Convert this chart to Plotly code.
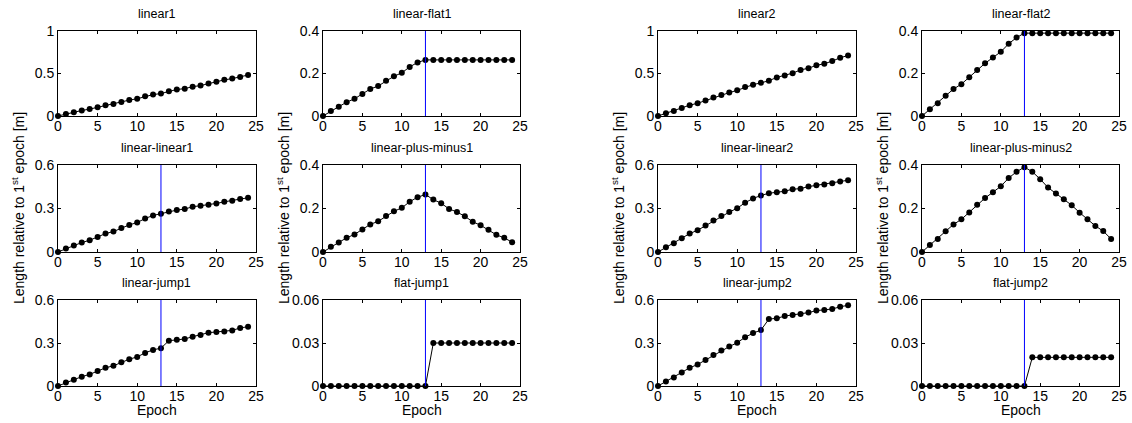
import plotly.graph_objects as go

epochs = list(range(25))
change_epoch = 13

titles = [
    ["linear1", "linear-flat1", "linear2", "linear-flat2"],
    ["linear-linear1", "linear-plus-minus1", "linear-linear2", "linear-plus-minus2"],
    ["linear-jump1", "flat-jump1", "linear-jump2", "flat-jump2"],
]

ramp1 = [0, 0.024, 0.044, 0.065, 0.081, 0.104, 0.127, 0.141, 0.166, 0.187, 0.203, 0.231, 0.252, 0.264]
ramp2 = [0, 0.032, 0.060, 0.095, 0.127, 0.150, 0.182, 0.217, 0.248, 0.275, 0.302, 0.340, 0.369, 0.390]

linear1 = ramp1 + [0.290, 0.312, 0.322, 0.345, 0.358, 0.382, 0.402, 0.425, 0.440, 0.458, 0.482]
linear_flat1 = ramp1 + [0.264] * 11
linear_linear1 = ramp1 + [0.279, 0.289, 0.296, 0.312, 0.319, 0.326, 0.335, 0.346, 0.353, 0.365, 0.374]
linear_pm1 = ramp1 + [0.241, 0.224, 0.198, 0.184, 0.164, 0.139, 0.123, 0.102, 0.079, 0.065, 0.045]
linear_jump1 = ramp1 + [0.316, 0.323, 0.328, 0.344, 0.356, 0.372, 0.377, 0.381, 0.388, 0.405, 0.414]
flat_jump1 = [0] * 14 + [0.03] * 11

linear2 = ramp2 + [0.415, 0.454, 0.477, 0.504, 0.542, 0.562, 0.596, 0.615, 0.646, 0.685, 0.712]
linear_flat2 = ramp2 + [0.390] * 11
linear_linear2 = ramp2 + [0.405, 0.412, 0.419, 0.433, 0.437, 0.451, 0.460, 0.465, 0.474, 0.486, 0.495]
linear_pm2 = ramp2 + [0.369, 0.335, 0.296, 0.269, 0.242, 0.215, 0.181, 0.150, 0.120, 0.096, 0.060]
linear_jump2 = ramp2 + [0.467, 0.472, 0.488, 0.495, 0.502, 0.512, 0.526, 0.530, 0.537, 0.553, 0.563]
flat_jump2 = [0] * 14 + [0.02] * 11

series = [
    [linear1, linear_flat1, linear2, linear_flat2],
    [linear_linear1, linear_pm1, linear_linear2, linear_pm2],
    [linear_jump1, flat_jump1, linear_jump2, flat_jump2],
]
show_change = [
    [False, True, False, True],
    [True, True, True, True],
    [True, True, True, True],
]
yticks = [
    [[0, 0.5, 1], ["0", "0.5", "1"]],
    [[0, 0.2, 0.4], ["0", "0.2", "0.4"]],
    [[0, 0.3, 0.6], ["0", "0.3", "0.6"]],
    [[0, 0.03, 0.06], ["0", "0.03", "0.06"]],
]
ytick_idx = [[0, 1, 0, 1], [2, 1, 2, 1], [2, 3, 2, 3]]
xticks = [0, 5, 10, 15, 20, 25]

W, H = 1132, 423
col_px = [(58, 256), (323, 520), (658, 856), (922, 1119)]
row_px = [(31, 116), (165, 252), (300, 386)]

FONT = "Liberation Sans, Arial, Helvetica, sans-serif"
fig = go.Figure()
annotations = []
shapes = []
k = 0
for r in range(3):
    for c in range(4):
        k += 1
        xa = "xaxis" if k == 1 else f"xaxis{k}"
        ya = "yaxis" if k == 1 else f"yaxis{k}"
        xr = "x" if k == 1 else f"x{k}"
        yr = "y" if k == 1 else f"y{k}"
        x0, x1 = col_px[c]
        top, bot = row_px[r]
        tv, tt = yticks[ytick_idx[r][c]]
        fig.add_trace(go.Scatter(
            x=epochs, y=series[r][c], mode="lines+markers",
            line=dict(color="black", width=1),
            marker=dict(color="black", size=6),
            xaxis=xr, yaxis=yr, cliponaxis=False, showlegend=False,
        ))
        common = dict(showline=True, linecolor="black", linewidth=1, mirror="allticks",
                      ticks="inside", ticklen=3, tickcolor="black", showgrid=False,
                      zeroline=False, automargin=False,
                      tickfont=dict(family=FONT, size=14, color="black"))
        fig.layout[xa] = dict(domain=[x0 / W, x1 / W], anchor=yr, range=[0, 25],
                              tickvals=xticks, ticktext=[str(v) for v in xticks],
                              ticklabelstandoff=-3, **common)
        fig.layout[ya] = dict(domain=[1 - bot / H, 1 - top / H], anchor=xr,
                              range=[tv[0], tv[-1]], tickvals=tv, ticktext=tt, **common)
        if show_change[r][c]:
            shapes.append(dict(type="line", xref=xr, yref=f"{yr} domain",
                               x0=change_epoch, x1=change_epoch, y0=0, y1=1,
                               line=dict(color="#0000ff", width=1)))
        annotations.append(dict(text=titles[r][c], x=(x0 + x1) / 2 / W, y=1 - (top - 17) / H,
                                xref="paper", yref="paper", showarrow=False,
                                xanchor="center", yanchor="middle",
                                font=dict(family=FONT, size=12.5, color="black")))
        if r == 2:
            annotations.append(dict(text="Epoch", x=(x0 + x1) / 2 / W, y=1 - 410 / H,
                                    xref="paper", yref="paper", showarrow=False,
                                    xanchor="center", yanchor="middle",
                                    font=dict(family=FONT, size=14, color="black")))
        if r == 1:
            annotations.append(dict(text="Length relative to 1<sup>st</sup> epoch [m]",
                                    x=(x0 - 40) / W, y=1 - 208 / H, textangle=-90,
                                    xref="paper", yref="paper", showarrow=False,
                                    xanchor="center", yanchor="middle",
                                    font=dict(family=FONT, size=14, color="black")))

fig.update_layout(template="none", width=W, height=H,
                  margin=dict(l=0, r=0, t=0, b=0, pad=0, autoexpand=False),
                  paper_bgcolor="white", plot_bgcolor="white",
                  annotations=annotations, shapes=shapes)
fig.write_html("out.html", config={"displayModeBar": False},
               post_script="document.body.style.margin='0px';document.body.style.overflow='hidden';")
